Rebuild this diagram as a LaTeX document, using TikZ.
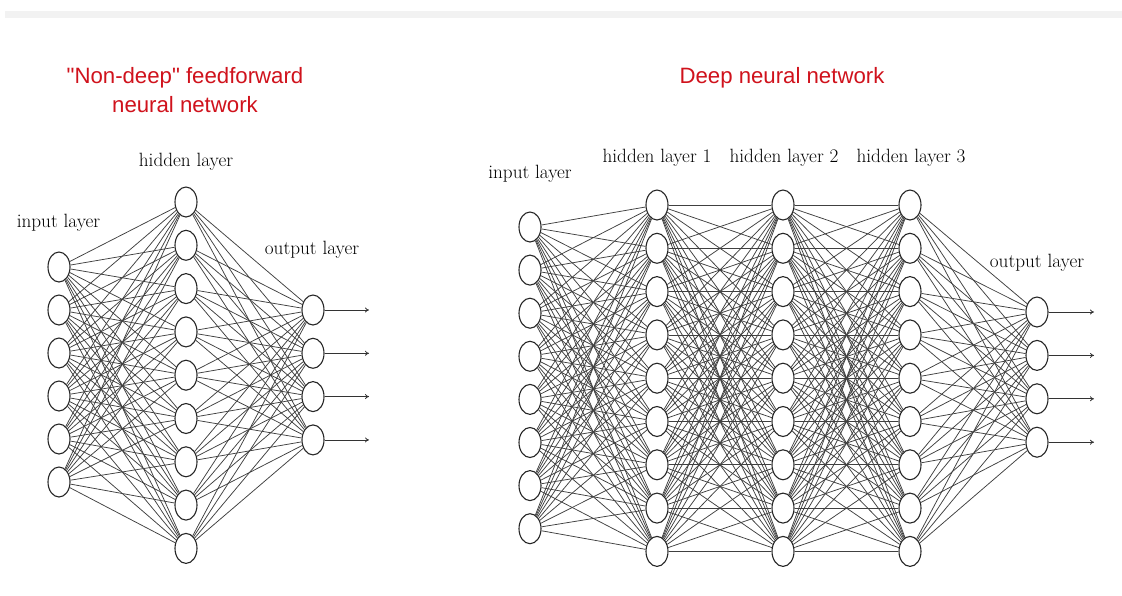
\documentclass[tikz,border=0pt]{standalone}
\usepackage{fontspec}
\newfontfamily\titlefont{Liberation Sans}
\usetikzlibrary{shapes.geometric,arrows.meta}
\definecolor{titlered}{RGB}{208,18,28}
\begin{document}
\begin{tikzpicture}[x=1pt,y=-1pt,
  neuron/.style={ellipse,draw=black!85,line width=1.1pt,fill=white,minimum width=22pt,minimum height=30pt,inner sep=0pt},
  edge/.style={draw=black!75,line width=0.75pt},
  outarrow/.style={draw=black!80,line width=0.8pt,-{To[length=4pt,width=5pt]}},
  lbl/.style={anchor=base,inner sep=0pt,font=\fontsize{19.2}{22}\selectfont},
  ttl/.style={anchor=base,inner sep=0pt,text=titlered,font=\titlefont\fontsize{22.2}{26}\selectfont}]
\useasboundingbox (0,0) rectangle (1122,595);
\fill[white] (0,0) rectangle (1122,595);
\fill[black!5] (5,11) rectangle (1122,18);

% titles
\node[ttl] (t1) at (185,83) {"Non-deep" feedforward};
\node[ttl] (t2) at (185,112) {neural network};
\node[ttl] (t3) at (782,83) {Deep neural network};

% ---------- left network ----------
\foreach \i in {1,...,6} \node[neuron] (a\i) at (59,{267+43*(\i-1)}) {};
\foreach \i in {1,...,9} \node[neuron] (b\i) at (186,{202+43.3*(\i-1)}) {};
\foreach \i in {1,...,4} \node[neuron] (c\i) at (313,{310+43.3*(\i-1)}) {};
\foreach \i in {1,...,6} \foreach \j in {1,...,9} \draw[edge] (a\i) -- (b\j);
\foreach \i in {1,...,9} \foreach \j in {1,...,4} \draw[edge] (b\i) -- (c\j);
\foreach \i in {1,...,4} {
  \coordinate (ce\i) at (369,{310+43.3*(\i-1)});
  \draw[outarrow] (c\i) -- (ce\i);
}
\node[lbl] (la) at (58.5,227) {input layer};
\node[lbl] (lb) at (186,166) {hidden layer};
\node[lbl] (lc) at (312,254) {output layer};

% ---------- right network ----------
\foreach \i in {1,...,8} \node[neuron] (p\i) at (530,{227+43.1*(\i-1)}) {};
\foreach \i in {1,...,9} {
  \node[neuron] (q\i) at (657,{205+43.3*(\i-1)}) {};
  \node[neuron] (r\i) at (783,{205+43.3*(\i-1)}) {};
  \node[neuron] (s\i) at (910,{205+43.3*(\i-1)}) {};
}
\foreach \i in {1,...,4} \node[neuron] (u\i) at (1037,{312+43.4*(\i-1)}) {};
\foreach \i in {1,...,8} \foreach \j in {1,...,9} \draw[edge] (p\i) -- (q\j);
\foreach \i in {1,...,9} \foreach \j in {1,...,9} {
  \draw[edge] (q\i) -- (r\j);
  \draw[edge] (r\i) -- (s\j);
}
\foreach \i in {1,...,9} \foreach \j in {1,...,4} \draw[edge] (s\i) -- (u\j);
\foreach \i in {1,...,4} {
  \coordinate (ue\i) at (1094,{312+43.4*(\i-1)});
  \draw[outarrow] (u\i) -- (ue\i);
}
\node[lbl] (lp) at (530,178) {input layer};
\node[lbl] (lq) at (657,162) {hidden layer 1};
\node[lbl] (lr) at (784,162) {hidden layer 2};
\node[lbl] (ls) at (911,162) {hidden layer 3};
\node[lbl] (lu) at (1037,267) {output layer};
\end{tikzpicture}
\end{document}
